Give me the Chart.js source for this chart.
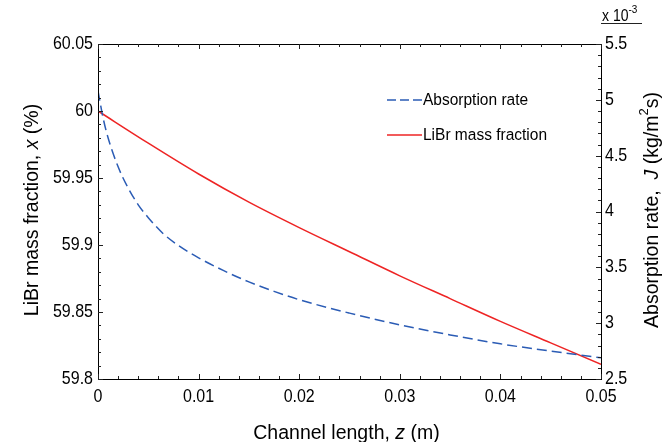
<!DOCTYPE html>
<html>
<head>
<meta charset="utf-8">
<script src="https://cdn.jsdelivr.net/npm/chart.js@4/dist/chart.umd.min.js"></script>
<style>
  html, body { margin: 0; padding: 0; background: #fff; }
  #wrap { width: 663px; height: 442px; position: relative; }
</style>
</head>
<body>
<div id="wrap"><canvas id="chart"></canvas></div>
<script>
// LiBr mass fraction x (%) vs channel length z (m)
const redZ = [0, 0.005, 0.01, 0.015, 0.02, 0.025, 0.03, 0.035, 0.04, 0.045, 0.05];
const massFraction = [60.000, 59.976, 59.953, 59.932, 59.913, 59.895, 59.877, 59.860, 59.843, 59.827, 59.811];

// absorption rate J (x 10^-3 kg/m2s) vs channel length z (m)
const blueZ = [0, 0.0005, 0.001, 0.002, 0.003, 0.004, 0.005, 0.0065, 0.008, 0.01,
  0.0125, 0.015, 0.0175, 0.02, 0.025, 0.03, 0.035, 0.04, 0.045, 0.05];
const absorptionRate = [5.08, 4.84, 4.66, 4.40, 4.21, 4.06, 3.945, 3.80, 3.695, 3.585,
  3.47, 3.37, 3.285, 3.21, 3.09, 2.985, 2.895, 2.815, 2.75, 2.69];

const seriesLabels = ["Absorption rate", "LiBr mass fraction"];

const FONT = "'Liberation Sans', Arial, Helvetica, sans-serif";
const RED = "#ee2424";
const BLUE = "#2b5cb5";
const SY = 1.12; // glyphs in the picture are a bit taller than wide

const fmt = v => String(Number(v.toFixed(4)));

function txt(ctx, s, x, y, font, align, rot, sy) {
  ctx.save();
  ctx.translate(x, y);
  ctx.rotate(rot || 0);
  ctx.scale(1, sy || 1);
  ctx.font = font;
  ctx.textAlign = align;
  ctx.textBaseline = "middle";
  ctx.fillText(s, 0, 0);
  ctx.restore();
}

// text made of pieces (italic symbols, superscripts), centred on cx,cy
function parts(ctx, list, cx, cy, rot, sy) {
  let total = 0;
  list.forEach(p => {
    ctx.font = p.font;
    p.w = ctx.measureText(p.t).width;
    total += p.w;
  });
  ctx.save();
  ctx.translate(cx, cy);
  ctx.rotate(rot);
  ctx.scale(1, sy || 1);
  ctx.textAlign = "left";
  ctx.textBaseline = "middle";
  let x = -total / 2;
  list.forEach(p => {
    ctx.font = p.font;
    ctx.fillText(p.t, x, p.dy || 0);
    x += p.w;
  });
  ctx.restore();
}

/* ---- frame, inward ticks, labels, titles, legend ---- */
const decorPlugin = {
  id: "decor",
  afterDraw(chart) {
    const { ctx, chartArea: a, scales } = chart;
    ctx.save();

    // box
    ctx.strokeStyle = "#000";
    ctx.lineWidth = 1;
    ctx.strokeRect(a.left + 0.5, a.top + 0.5, a.right - a.left, a.bottom - a.top);

    ctx.strokeStyle = "#222";
    for (let i = 0; i <= 25; i++) {
      const px = Math.round(scales.x.getPixelForValue(i * 0.002)) + 0.5;
      const len = i % 5 === 0 ? 5 : 3;
      ctx.beginPath();
      ctx.moveTo(px, a.bottom); ctx.lineTo(px, a.bottom - len);
      ctx.moveTo(px, a.top); ctx.lineTo(px, a.top + len);
      ctx.stroke();
    }
    for (let i = 0; i <= 25; i++) {
      const py = Math.round(scales.y.getPixelForValue(59.8 + i * 0.01)) + 0.5;
      const len = i % 5 === 0 ? 5 : 3;
      ctx.beginPath();
      ctx.moveTo(a.left, py); ctx.lineTo(a.left + len, py);
      ctx.stroke();
    }
    for (let i = 0; i <= 30; i++) {
      const py = Math.round(scales.y1.getPixelForValue(2.5 + i * 0.1)) + 0.5;
      const len = i % 5 === 0 ? 5 : 3;
      ctx.beginPath();
      ctx.moveTo(a.right, py); ctx.lineTo(a.right - len, py);
      ctx.stroke();
    }

    ctx.fillStyle = "#000";
    const tf = "16px " + FONT;

    // tick labels
    scales.x.ticks.forEach(t => {
      txt(ctx, fmt(t.value), scales.x.getPixelForValue(t.value), a.bottom + 18, tf, "center", 0, SY);
    });
    scales.y.ticks.forEach(t => {
      txt(ctx, fmt(t.value), a.left - 5, scales.y.getPixelForValue(t.value), tf, "right", 0, SY);
    });
    scales.y1.ticks.forEach(t => {
      txt(ctx, fmt(t.value), a.right + 4, scales.y1.getPixelForValue(t.value), tf, "left", 0, SY);
    });

    // axis titles
    const n = "19.5px " + FONT;
    const it = "italic 19.5px " + FONT;
    parts(ctx, [
      { t: "Channel length, ", font: n },
      { t: "z", font: it },
      { t: " (m)", font: n }
    ], (a.left + a.right) / 2 - 3, 433, 0, 1.05);

    parts(ctx, [
      { t: "LiBr mass fraction, ", font: n },
      { t: "x", font: it },
      { t: " (%)", font: n }
    ], 32, 210, -Math.PI / 2, 1.05);

    parts(ctx, [
      { t: "Absorption rate,  ", font: n },
      { t: "J", font: it },
      { t: " (kg/m", font: n },
      { t: "2", font: "13px " + FONT, dy: -7 },
      { t: "s)", font: n }
    ], 652, 210, -Math.PI / 2, 1.05);

    // exponent label
    ctx.textAlign = "left";
    txt(ctx, "x 10", a.right + 1, 17, "14px " + FONT, "left", 0, SY);
    ctx.font = "14px " + FONT;
    const w10 = ctx.measureText("x 10").width;
    txt(ctx, "-3", a.right + 1 + w10, 10, "10px " + FONT, "left", 0, SY);
    ctx.beginPath();
    ctx.moveTo(a.right, 23.5); ctx.lineTo(a.right + 41, 23.5);
    ctx.stroke();

    // legend
    const lx = a.left + 289, ly1 = a.top + 56, ly2 = a.top + 91;
    ctx.lineWidth = 1.5;
    ctx.strokeStyle = BLUE;
    ctx.setLineDash([9, 4]);
    ctx.beginPath(); ctx.moveTo(lx, ly1); ctx.lineTo(lx + 35, ly1); ctx.stroke();
    ctx.setLineDash([]);
    ctx.strokeStyle = RED;
    ctx.beginPath(); ctx.moveTo(lx, ly2); ctx.lineTo(lx + 35, ly2); ctx.stroke();
    const lf = "15.5px " + FONT;
    txt(ctx, seriesLabels[0], lx + 36, ly1, lf, "left", 0, SY);
    txt(ctx, seriesLabels[1], lx + 36, ly2, lf, "left", 0, SY);

    ctx.restore();
  }
};

const hidden = { display: false };

new Chart(document.getElementById("chart"), {
  type: "line",
  data: {
    datasets: [
      {
        label: seriesLabels[0],
        data: blueZ.map((z, i) => ({ x: z, y: absorptionRate[i] })),
        yAxisID: "y1",
        borderColor: BLUE,
        borderWidth: 1.5,
        borderDash: [10, 5],
        pointRadius: 0,
        cubicInterpolationMode: "monotone"
      },
      {
        label: seriesLabels[1],
        data: redZ.map((z, i) => ({ x: z, y: massFraction[i] })),
        yAxisID: "y",
        borderColor: RED,
        borderWidth: 1.5,
        pointRadius: 0,
        cubicInterpolationMode: "monotone"
      }
    ]
  },
  options: {
    responsive: true,
    maintainAspectRatio: false,
    animation: false,
    layout: { padding: { top: 44, left: 0, right: 0, bottom: 0 } },
    plugins: {
      legend: hidden,
      tooltip: { enabled: false }
    },
    scales: {
      x: {
        type: "linear",
        min: 0,
        max: 0.05,
        grid: { display: false, drawTicks: false },
        border: hidden,
        ticks: { stepSize: 0.01, display: false },
        afterFit: s => { s.height = 63; }
      },
      y: {
        position: "left",
        min: 59.8,
        max: 60.05,
        grid: { display: false, drawTicks: false },
        border: hidden,
        ticks: { stepSize: 0.05, display: false },
        afterFit: s => { s.width = 98; }
      },
      y1: {
        position: "right",
        min: 2.5,
        max: 5.5,
        grid: { display: false, drawTicks: false },
        border: hidden,
        ticks: { stepSize: 0.5, display: false },
        afterFit: s => { s.width = 62; }
      }
    }
  },
  plugins: [decorPlugin]
});
</script>
</body>
</html>
